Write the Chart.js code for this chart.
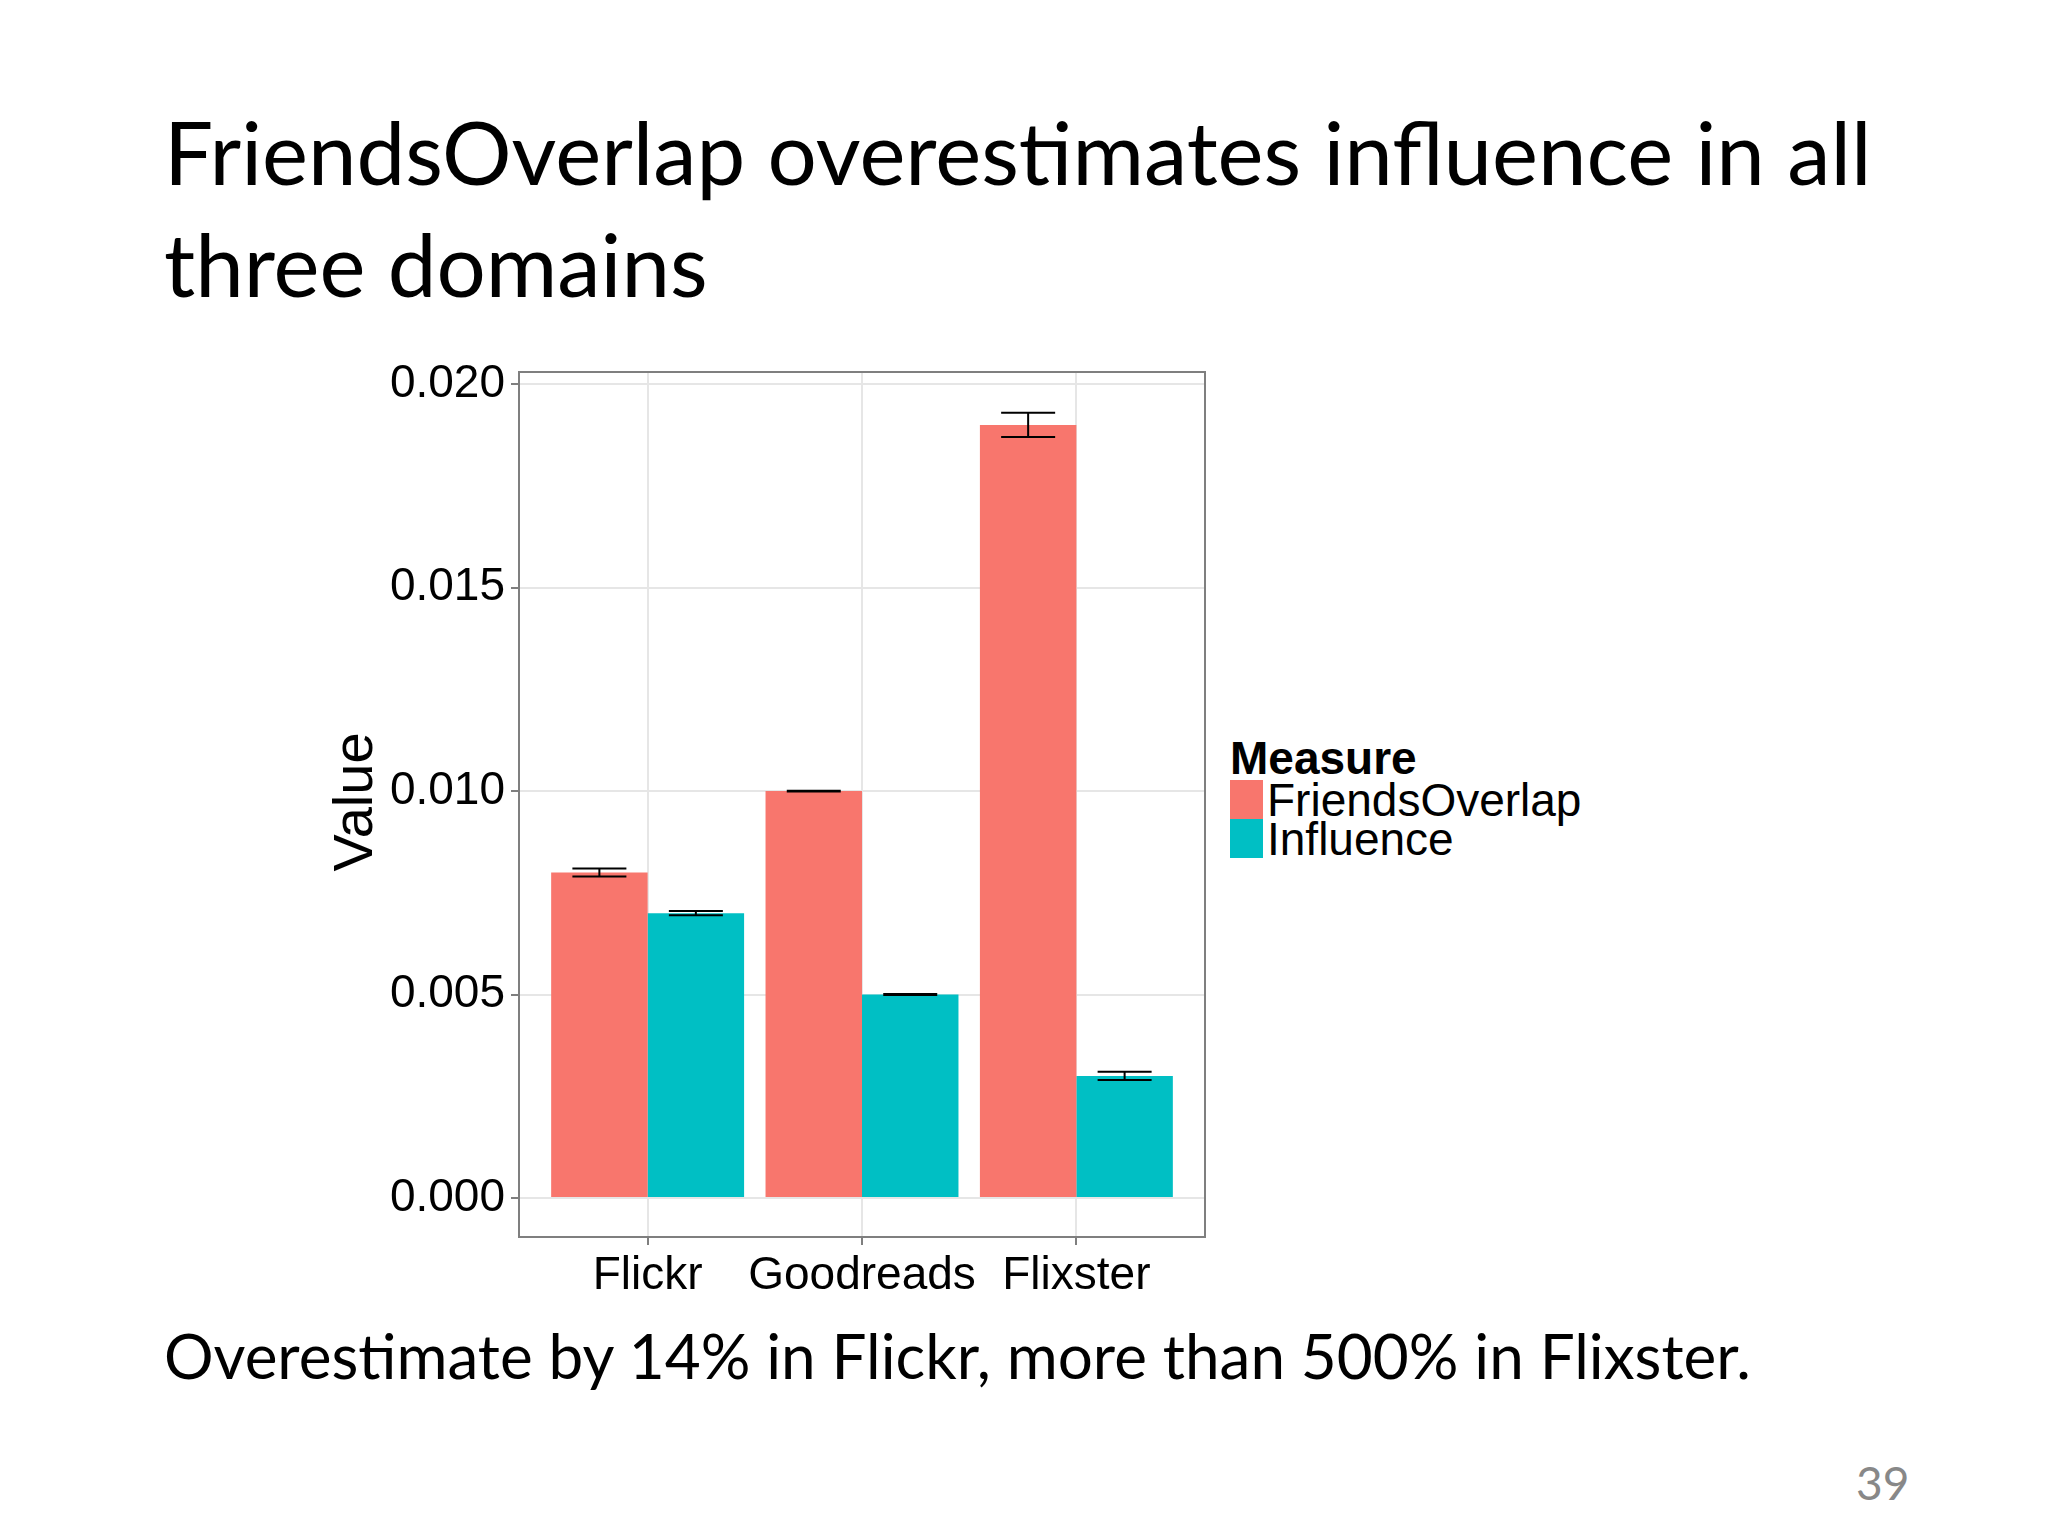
<!DOCTYPE html>
<html><head><meta charset="utf-8">
<script src="https://cdn.jsdelivr.net/npm/chart.js@4"></script>
<style>
body{margin:0;width:2048px;height:1536px;background:#fff;position:relative;overflow:hidden;font-family:Lato,"Open Sans",sans-serif}
.t{position:absolute;left:164px;top:96px;font-size:87px;line-height:112px;color:#000}
.s{position:absolute;left:164px;top:1318px;font-size:62px;color:#000}
.p{position:absolute;left:1856px;top:1455px;font-size:46px;color:#888}
.yl{position:absolute;left:352px;top:802px;font-family:"Liberation Sans",Arial;font-size:56px;transform:translate(-50%,-50%) rotate(-90deg)}
.lg{position:absolute;left:1230px;top:738px;font-family:"Liberation Sans",Arial;font-size:46px;line-height:40px}
.lg b{display:block;margin-bottom:2px}
.k{display:flex;align-items:center;height:39px}
.k i{width:33px;height:39px;display:inline-block;margin-right:4px}
canvas{position:absolute;left:0;top:0}
</style></head><body>
<div class="t">FriendsOverlap overestimates influence in all<br>three domains</div>
<div class="yl">Value</div>
<div class="lg"><b>Measure</b><div class="k"><i style="background:#F8766D"></i>FriendsOverlap</div><div class="k"><i style="background:#00BFC4"></i>Influence</div></div>
<div class="s">Overestimate by 14% in Flickr, more than 500% in Flixster.</div>
<div class="p">39</div>
<canvas id="c" width="2048" height="1536"></canvas>
<script>
const categories=["Flickr","Goodreads","Flixster"];
const friendsOverlap=[0.0080,0.0100,0.0190];
const friendsErr=[0.00010,0.00001,0.00030];
const influence=[0.0070,0.0050,0.0030];
const influenceErr=[0.00005,0.00001,0.00010];
const yTicks=[0,0.005,0.010,0.015,0.020];
const pos=[1,2,3];
const errs=[friendsErr,influenceErr];
const errPlugin={id:'err',afterDatasetsDraw(ch){
 const c=ch.ctx,y=ch.scales.y;c.save();c.strokeStyle='#000';c.lineWidth=2;
 ch.data.datasets.forEach((ds,i)=>{ch.getDatasetMeta(i).data.forEach((b,j)=>{
  const v=ds.data[j].y,e=errs[i][j],x=b.x,h=27;
  const y1=y.getPixelForValue(v+e),y2=y.getPixelForValue(v-e);
  c.beginPath();c.moveTo(x-h,y1);c.lineTo(x+h,y1);c.moveTo(x-h,y2);c.lineTo(x+h,y2);c.moveTo(x,y1);c.lineTo(x,y2);c.stroke();});});
 const a=ch.chartArea;c.strokeStyle='#7f7f7f';c.lineWidth=2;c.strokeRect(a.left,a.top,a.right-a.left,a.bottom-a.top);c.restore();}};
new Chart(document.getElementById('c'),{type:'bar',
 data:{datasets:[
  {label:'FriendsOverlap',data:pos.map((p,i)=>({x:p,y:friendsOverlap[i]})),backgroundColor:'#F8766D'},
  {label:'Influence',data:pos.map((p,i)=>({x:p,y:influence[i]})),backgroundColor:'#00BFC4'}]},
 options:{responsive:false,animation:false,devicePixelRatio:1,
  categoryPercentage:0.9,barPercentage:1,
  layout:{padding:{left:300,top:372,right:843,bottom:219}},
  plugins:{legend:{display:false},tooltip:{enabled:false}},
  scales:{
   x:{type:'linear',offset:false,min:0.4,max:3.6,afterFit(s){s.height=80},
    afterBuildTicks(s){s.ticks=pos.map(v=>({value:v}))},
    ticks:{callback:(v)=>categories[v-1],color:'#000',font:{family:'Liberation Sans',size:46},padding:4,maxRotation:0,autoSkip:false},
    grid:{offset:false,color:'#e6e6e6',lineWidth:2,tickColor:'#7f7f7f',tickLength:8},border:{display:false}},
   y:{min:-0.00096,max:0.0203,afterFit(s){s.width=219},
    afterBuildTicks(s){s.ticks=yTicks.map(v=>({value:v}))},
    ticks:{callback:(v)=>v.toFixed(3),color:'#000',font:{family:'Liberation Sans',size:46},padding:6},
    grid:{color:'#e6e6e6',lineWidth:2,tickColor:'#7f7f7f',tickLength:8},border:{display:false}}}},
 plugins:[errPlugin]});
</script></body></html>
